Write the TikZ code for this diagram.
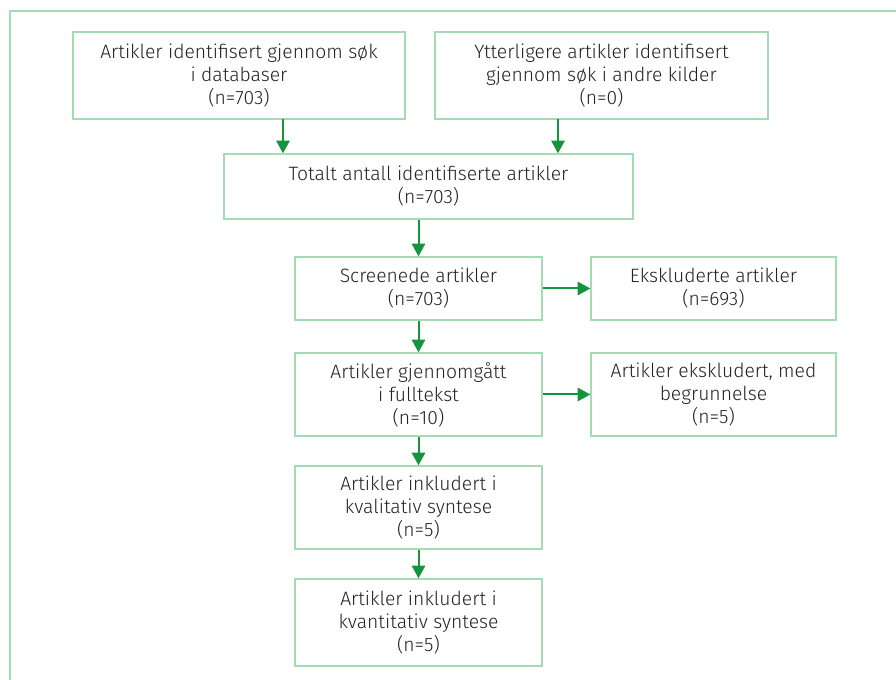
\documentclass[tikz,border=0pt]{standalone}
\usepackage{fontspec}
\setmainfont{Fira Sans Light}
\usetikzlibrary{arrows.meta}
\definecolor{framegreen}{HTML}{A3DBB3}
\definecolor{arrowgreen}{HTML}{14943F}
\definecolor{textgray}{HTML}{222222}
\begin{document}
\begin{tikzpicture}[
  x = 0.75pt,
  y = -0.75pt,
  box/.style = {
    draw = framegreen,
    line width = 1pt,
    align = center,
    inner sep = 0pt,
    text = textgray,
    font = \fontsize{14.5}{17.25}\selectfont
  },
  flow/.style = {
    draw = arrowgreen,
    line width = 1.5pt,
    -{Triangle[length = 9.5pt, width = 10pt]}
  }
]
  \useasboundingbox (0, 0) rectangle (896, 680);
  \draw[draw = framegreen, line width = 1.2pt] (10, 680) -- (10, 11) -- (896, 11);

  \node[box, minimum width = 249pt, minimum height = 65.25pt] (dbs) at (239, 75.5)
    {Artikler identifisert gjennom søk\\ i databaser\\ (n=703)};
  \node[box, minimum width = 249.75pt, minimum height = 65.25pt] (other) at (601.5, 75.5)
    {Ytterligere artikler identifisert\\ gjennom søk i andre kilder\\ (n=0)};
  \node[box, minimum width = 306.75pt, minimum height = 48.75pt] (total) at (428.5, 186.5)
    {Totalt antall identifiserte artikler\\ (n=703)};

  \node[box, minimum width = 185.25pt, minimum height = 47.25pt] (screened) at (418.5, 288.5)
    {Screenede artikler\\ (n=703)};
  \node[box, minimum width = 183.75pt, minimum height = 47.25pt] (excl) at (713.5, 288.5)
    {Ekskluderte artikler\\ (n=693)};

  \node[box, minimum width = 185.25pt, minimum height = 62.25pt] (fulltext) at (418.5, 394.5)
    {Artikler gjennomgått\\ i fulltekst\\ (n=10)};
  \node[box, minimum width = 183.75pt, minimum height = 62.25pt] (exclwhy) at (713.5, 394.5)
    {Artikler ekskludert, med\\ begrunnelse\\ (n=5)};

  \node[box, minimum width = 185.25pt, minimum height = 62.25pt] (qual) at (418.5, 507.5)
    {Artikler inkludert i\\ kvalitativ syntese\\ (n=5)};
  \node[box, minimum width = 185.25pt, minimum height = 65.25pt] (quant) at (418.5, 622.5)
    {Artikler inkludert i\\ kvantitativ syntese\\ (n=5)};

  \coordinate (dbsout) at (283, 119);
  \coordinate (otherout) at (558, 119);

  \draw[flow] (dbsout) -- (dbsout |- total.north);
  \draw[flow] (otherout) -- (otherout |- total.north);
  \draw[flow] (total.south -| screened.north) -- (screened.north);
  \draw[flow] (screened.east) -- (excl.west);
  \draw[flow] (screened.south) -- (fulltext.north);
  \draw[flow] (fulltext.east) -- (exclwhy.west);
  \draw[flow] (fulltext.south) -- (qual.north);
  \draw[flow] (qual.south) -- (quant.north);
\end{tikzpicture}
\end{document}
